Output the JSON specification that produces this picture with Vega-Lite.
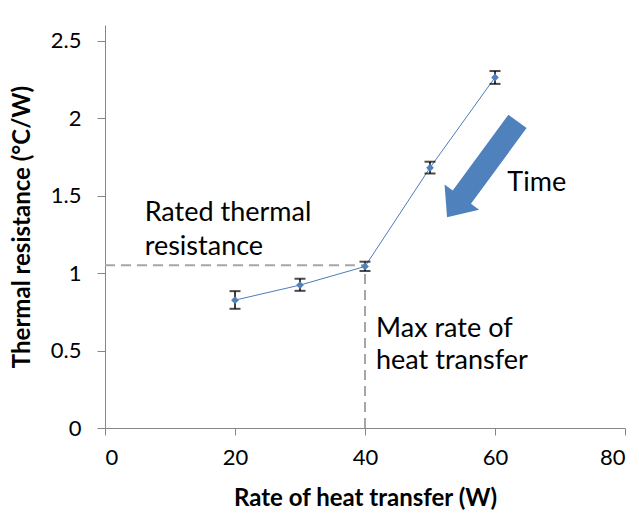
{
  "$schema": "https://vega.github.io/schema/vega-lite/v6.json",
  "width": 520,
  "height": 403,
  "autosize": {"type": "none"},
  "padding": {"left": 105, "top": 25, "right": 14, "bottom": 86},
  "background": "white",
  "config": {
    "view": {"stroke": null},
    "font": "Lato",
    "axis": {
      "grid": false,
      "domainColor": "#868686",
      "tickColor": "#868686",
      "labelColor": "#000000",
      "titleColor": "#000000",
      "labelFont": "Lato",
      "titleFont": "Lato",
      "labelFontSize": 22,
      "titleFontSize": 24,
      "titleFontWeight": "bold",
      "tickSize": 7,
      "labelPadding": 12
    }
  },
  "datasets": {
    "pts": [
      {"rate": 20, "res": 0.825, "lo": 0.769, "hi": 0.883},
      {"rate": 30, "res": 0.922, "lo": 0.885, "hi": 0.963},
      {"rate": 40, "res": 1.042, "lo": 1.013, "hi": 1.073},
      {"rate": 50, "res": 1.679, "lo": 1.642, "hi": 1.718},
      {"rate": 60, "res": 2.262, "lo": 2.22, "hi": 2.303}
    ],
    "guides": [
      {"x1": 0, "x2": 40, "y1": 1.05, "y2": 1.05},
      {"x1": 40, "x2": 40, "y1": 0, "y2": 1.05}
    ],
    "labels": [
      {"x": 6.1, "y": 1.336, "t": "Rated thermal"},
      {"x": 6.1, "y": 1.117, "t": "resistance"},
      {"x": 41.7, "y": 0.589, "t": "Max rate of"},
      {"x": 41.7, "y": 0.38, "t": "heat transfer"},
      {"x": 61.9, "y": 1.528, "t": "Time"}
    ],
    "arrow": [
      {"x": 58.04, "y": 1.669}
    ]
  },
  "layer": [
    {
      "data": {"name": "guides"},
      "mark": {"type": "rule", "color": "#A6A6A6", "strokeWidth": 2, "strokeDash": [10, 6]},
      "encoding": {
        "x": {"field": "x1", "type": "quantitative", "scale": {"domain": [0, 80]},
              "axis": {"values": [0, 20, 40, 60, 80], "title": "Rate of heat transfer (W)", "titlePadding": 18}},
        "x2": {"field": "x2"},
        "y": {"field": "y1", "type": "quantitative", "scale": {"domain": [0, 2.5]},
              "axis": {"values": [0, 0.5, 1, 1.5, 2, 2.5], "format": "~g", "tickSize": 8, "labelPadding": 16, "title": "Thermal resistance (°C/W)", "titlePadding": 16}},
        "y2": {"field": "y2"}
      }
    },
    {
      "data": {"name": "pts"},
      "mark": {"type": "line", "color": "#4A7EBB", "strokeWidth": 1},
      "encoding": {
        "x": {"field": "rate", "type": "quantitative"},
        "y": {"field": "res", "type": "quantitative"}
      }
    },
    {
      "data": {"name": "pts"},
      "mark": {"type": "rule", "color": "#000000", "strokeWidth": 1.5},
      "encoding": {
        "x": {"field": "rate", "type": "quantitative"},
        "y": {"field": "lo", "type": "quantitative"},
        "y2": {"field": "hi"}
      }
    },
    {
      "data": {"name": "pts"},
      "mark": {"type": "tick", "orient": "horizontal", "color": "#000000", "size": 11, "thickness": 2},
      "encoding": {
        "x": {"field": "rate", "type": "quantitative"},
        "y": {"field": "lo", "type": "quantitative"}
      }
    },
    {
      "data": {"name": "pts"},
      "mark": {"type": "tick", "orient": "horizontal", "color": "#000000", "size": 11, "thickness": 2},
      "encoding": {
        "x": {"field": "rate", "type": "quantitative"},
        "y": {"field": "hi", "type": "quantitative"}
      }
    },
    {
      "data": {"name": "pts"},
      "mark": {"type": "point", "shape": "diamond", "filled": true, "color": "#4F81BD", "opacity": 1, "size": 60},
      "encoding": {
        "x": {"field": "rate", "type": "quantitative"},
        "y": {"field": "res", "type": "quantitative"}
      }
    },
    {
      "data": {"name": "arrow"},
      "mark": {"type": "point", "filled": true, "color": "#4F81BD", "opacity": 1, "size": 14161, "angle": 216.3,
               "shape": "M -0.19 1 L -0.19 -0.58 L -0.36 -0.58 L 0 -1 L 0.36 -0.58 L 0.19 -0.58 L 0.19 1 Z"},
      "encoding": {
        "x": {"field": "x", "type": "quantitative"},
        "y": {"field": "y", "type": "quantitative"}
      }
    },
    {
      "data": {"name": "labels"},
      "mark": {"type": "text", "align": "left", "baseline": "alphabetic", "fontSize": 27, "font": "Lato", "color": "#000000"},
      "encoding": {
        "x": {"field": "x", "type": "quantitative"},
        "y": {"field": "y", "type": "quantitative"},
        "text": {"field": "t"}
      }
    }
  ]
}
